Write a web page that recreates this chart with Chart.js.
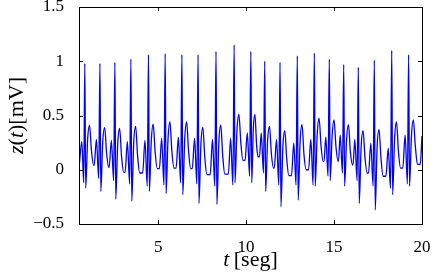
<!DOCTYPE html>
<html lang="es">
<head>
<meta charset="UTF-8">
<title>z(t) [mV]</title>
<script src="https://cdn.jsdelivr.net/npm/chart.js"></script>
<style>
    html, body { margin: 0; padding: 0; background: #fff; }
    #ecg { display: block; }
</style>
</head>
<body>
<canvas id="ecg" width="436" height="273"></canvas>
<script>
// time axis [seg], one row per beat
const tSec = [
    0.50, 0.66, 0.77, 0.83, 0.88, 0.99, 1.10, 1.21, 1.33,
    1.36, 1.49, 1.62, 1.69, 1.74, 1.85, 1.96, 2.07, 2.19,
    2.21, 2.34, 2.47, 2.54, 2.59, 2.70, 2.81, 2.92, 3.04,
    3.12, 3.25, 3.38, 3.45, 3.50, 3.61, 3.72, 3.83, 3.95,
    4.12, 4.25, 4.38, 4.45, 4.50, 4.61, 4.72, 4.83, 4.95,
    5.07, 5.20, 5.33, 5.40, 5.45, 5.56, 5.67, 5.78, 5.90,
    6.02, 6.15, 6.28, 6.35, 6.40, 6.51, 6.62, 6.73, 6.85,
    6.94, 7.07, 7.20, 7.27, 7.32, 7.43, 7.54, 7.65, 7.77,
    7.96, 8.09, 8.22, 8.29, 8.34, 8.45, 8.56, 8.67, 8.79,
    8.99, 9.12, 9.25, 9.32, 9.37, 9.48, 9.59, 9.70, 9.82,
    9.94, 10.07, 10.20, 10.27, 10.32, 10.41, 10.50, 10.60, 10.68,
    10.76, 10.86, 10.99, 11.06, 11.11, 11.22, 11.33, 11.44, 11.56,
    11.60, 11.73, 11.86, 11.93, 11.98, 12.09, 12.20, 12.31, 12.43,
    12.58, 12.71, 12.84, 12.91, 12.96, 13.07, 13.18, 13.29, 13.41,
    13.55, 13.68, 13.81, 13.88, 13.93, 14.04, 14.15, 14.26, 14.38,
    14.43, 14.53, 14.66, 14.73, 14.78, 14.89, 15.00, 15.11, 15.23,
    15.25, 15.35, 15.48, 15.55, 15.60, 15.71, 15.82, 15.93, 16.05,
    16.08, 16.18, 16.31, 16.38, 16.43, 16.54, 16.65, 16.76, 16.88,
    16.96, 17.09, 17.22, 17.29, 17.34, 17.45, 17.56, 17.67, 17.79,
    17.95, 18.08, 18.21, 18.28, 18.33, 18.44, 18.55, 18.66, 18.78,
    18.91, 19.04, 19.17, 19.24, 19.29, 19.40, 19.51, 19.62, 19.74,
    19.90, 20.00
];

// z(t) [mV]
const zMv = [
    0.01, 0.26, -0.12, 0.98, -0.17, 0.28, 0.41, 0.17, 0.04,
    0.04, 0.28, -0.08, 0.98, -0.20, 0.26, 0.39, 0.15, 0.02,
    0.02, 0.27, -0.10, 0.99, -0.27, 0.24, 0.38, 0.12, -0.025,
    -0.025, 0.26, -0.13, 1.02, -0.29, 0.25, 0.40, 0.13, -0.03,
    -0.03, 0.27, -0.15, 1.06, -0.20, 0.27, 0.42, 0.16, 0.01,
    0.01, 0.29, -0.14, 1.07, -0.22, 0.28, 0.44, 0.17, 0.015,
    0.015, 0.30, -0.12, 1.06, -0.23, 0.28, 0.44, 0.17, 0.01,
    0.01, 0.29, -0.13, 1.06, -0.31, 0.23, 0.39, 0.12, -0.045,
    -0.045, 0.28, -0.15, 1.09, -0.32, 0.25, 0.41, 0.13, -0.04,
    -0.04, 0.29, -0.14, 1.15, -0.12, 0.36, 0.51, 0.25, 0.086,
    0.09, 0.34, -0.06, 1.09, -0.12, 0.38, 0.51, 0.22, 0.12,
    0.12, 0.34, -0.03, 1.00, -0.20, 0.26, 0.40, 0.14, 0.015,
    0.015, 0.28, -0.14, 0.99, -0.34, 0.21, 0.36, 0.10, -0.055,
    -0.055, 0.245, -0.14, 1.05, -0.28, 0.26, 0.415, 0.14, 0.0,
    0.0, 0.28, -0.14, 1.075, -0.15, 0.32, 0.475, 0.22, 0.077,
    0.077, 0.30, -0.06, 1.02, -0.10, 0.31, 0.46, 0.21, 0.077,
    0.077, 0.32, -0.03, 0.97, -0.15, 0.27, 0.415, 0.16, 0.046,
    0.046, 0.28, -0.10, 0.945, -0.31, 0.21, 0.36, 0.11, -0.03,
    -0.03, 0.245, -0.15, 1.01, -0.37, 0.22, 0.37, 0.10, -0.06,
    -0.06, 0.20, -0.17, 1.10, -0.23, 0.28, 0.44, 0.17, 0.015,
    0.015, 0.32, -0.13, 1.06, -0.15, 0.31, 0.46, 0.22, 0.05,
    0.05, 0.31
];

const xTicks = [5, 10, 15, 20];
const yTicks = [-0.5, 0, 0.5, 1, 1.5];

const serif = '"Liberation Serif", "DejaVu Serif", serif';

// MATLAB style box with inward ticks, plus the axis titles (mixed italic)
const boxPlugin = {
    id: 'box',
    afterDraw(chart) {
        const ctx = chart.ctx;
        const a = chart.chartArea;
        const xs = chart.scales.x, ys = chart.scales.y;
        ctx.save();
        ctx.strokeStyle = '#000';
        ctx.lineWidth = 1;
        ctx.strokeRect(Math.round(a.left) + 0.5, Math.round(a.top) + 0.5,
            Math.round(a.right - a.left), Math.round(a.bottom - a.top));
        ctx.beginPath();
        xTicks.forEach(v => {
            const px = Math.round(xs.getPixelForValue(v)) + 0.5;
            ctx.moveTo(px, a.bottom); ctx.lineTo(px, a.bottom - 4);
            ctx.moveTo(px, a.top); ctx.lineTo(px, a.top + 4);
        });
        yTicks.forEach(v => {
            const py = Math.round(ys.getPixelForValue(v)) + 0.5;
            ctx.moveTo(a.left, py); ctx.lineTo(a.left + 4, py);
            ctx.moveTo(a.right, py); ctx.lineTo(a.right - 4, py);
        });
        ctx.stroke();

        // x title: t [seg]
        ctx.fillStyle = '#000';
        ctx.textBaseline = 'alphabetic';
        const it = 'italic 22px ' + serif, up = '22px ' + serif;
        let parts = [['t', it], ['\u2009[seg]', up]];
        drawParts(ctx, parts, (a.left + a.right) / 2, 266);

        // y title: z(t)[mV]
        parts = [['z', it], ['(', up], ['t', it], [')[mV]', up]];
        ctx.translate(23, (a.top + a.bottom) / 2);
        ctx.rotate(-Math.PI / 2);
        drawParts(ctx, parts, 0, 0);
        ctx.restore();
    }
};

function drawParts(ctx, parts, cx, y) {
    let w = 0;
    parts.forEach(p => { ctx.font = p[1]; w += ctx.measureText(p[0]).width; });
    let x = cx - w / 2;
    parts.forEach(p => {
        ctx.font = p[1];
        ctx.fillText(p[0], x, y);
        x += ctx.measureText(p[0]).width;
    });
}

const fmt = v => (v < 0 ? '\u2212' + Math.abs(v) : String(v));

new Chart(document.getElementById('ecg'), {
    type: 'line',
    data: {
        datasets: [{
            data: tSec.map((t, i) => ({ x: t, y: zMv[i] })),
            borderColor: '#0000ff',
            borderWidth: 1.3,
            pointRadius: 0,
            cubicInterpolationMode: 'monotone',
            fill: false
        }]
    },
    options: {
        responsive: false,
        animation: false,
        layout: { padding: { left: 0, right: 14, top: 7, bottom: 0 } },
        plugins: {
            legend: { display: false },
            tooltip: { enabled: false }
        },
        scales: {
            x: {
                type: 'linear',
                min: 0.5,
                max: 20,
                grid: { display: false },
                border: { display: false },
                afterBuildTicks: s => { s.ticks = xTicks.map(v => ({ value: v })); },
                afterFit: s => { s.height = 49; s.paddingLeft = 0; s.paddingRight = 0; },
                ticks: {
                    color: '#000',
                    font: { family: serif, size: 17 },
                    padding: 5,
                    maxRotation: 0,
                    callback: fmt
                }
            },
            y: {
                min: -0.5,
                max: 1.5,
                grid: { display: false },
                border: { display: false },
                afterBuildTicks: s => { s.ticks = yTicks.map(v => ({ value: v })); },
                afterFit: s => { s.width = 79; s.paddingTop = 0; s.paddingBottom = 0; },
                ticks: {
                    color: '#000',
                    font: { family: serif, size: 17 },
                    padding: 7,
                    callback: fmt
                }
            }
        }
    },
    plugins: [boxPlugin]
});
</script>
</body>
</html>
